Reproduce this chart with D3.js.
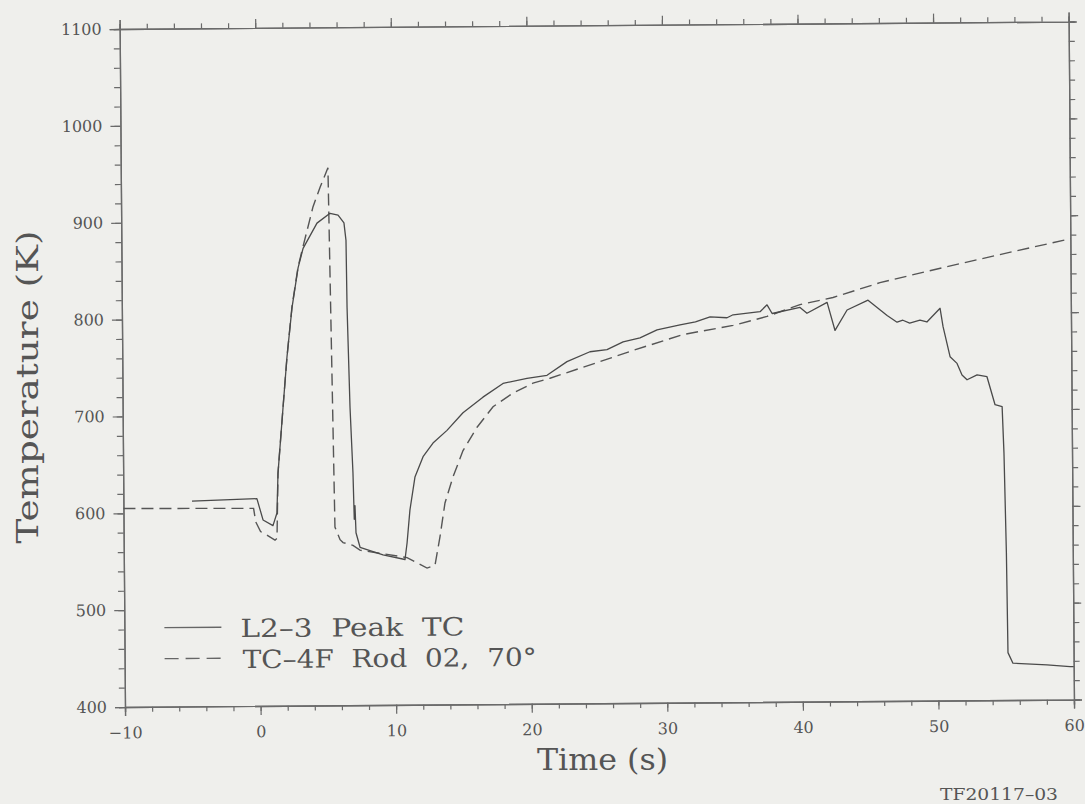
<!DOCTYPE html>
<html>
<head>
<meta charset="utf-8">
<script src="https://cdn.jsdelivr.net/npm/d3@7"></script>
<style>
  html, body { margin: 0; padding: 0; background: #efefec; }
  svg { display: block; }
  text { font-family: "DejaVu Serif", "Liberation Serif", serif; fill: #555; }
</style>
</head>
<body>
<svg id="chart" width="1085" height="804"></svg>
<script>
// axis ticks
const timeTicks = [-10, 0, 10, 20, 30, 40, 50, 60];
const tempTicks = [400, 500, 600, 700, 800, 900, 1000, 1100];

// L2-3 Peak TC (solid)
const peakTime = [-4.94, -0.15, 0.29, 1.02, 1.32, 1.42, 1.83, 2.15, 2.55, 3.02, 3.40, 4.44, 5.41, 6.0, 6.43, 6.57,
  6.61, 6.77, 6.95, 7.02, 7.08, 7.14, 7.43, 9.12, 10.74, 10.9, 11.13, 11.52, 12.13, 12.87, 13.91, 15.1, 16.58,
  18.07, 19.84, 21.32, 22.8, 24.5, 25.76, 26.95, 28.2, 29.46, 31.16, 32.3, 33.38, 34.63, 35.08, 37.07, 37.59,
  37.96, 40.02, 40.53, 42.02, 42.59, 43.49, 45.04, 46.44, 47.17, 47.6, 48.1, 48.86, 49.37, 50.35, 50.56, 51.06,
  51.57, 51.93, 52.3, 53.04, 53.77, 54.35, 54.87, 54.98, 55.1, 55.16, 55.52, 58.03, 59.73, 60];
const peakTemp = [612, 614, 592, 586, 599, 640, 708, 760, 811, 852, 872, 898, 908, 906, 898, 880,
  811, 708, 640, 592, 606, 578, 563, 555, 550, 567, 601, 635, 656, 670, 683, 701, 717,
  731, 736, 739, 753, 763, 765, 773, 777, 785, 790, 793, 798, 797, 800, 803, 810,
  801, 807, 801, 812, 783, 804, 814, 798, 791, 793, 790, 793, 791, 805, 786, 755,
  748, 736, 731, 736, 734, 705, 703, 655, 552, 449, 438, 436, 434, 434];

// TC-4F Rod 02, 70 deg (dashed)
const rodTime = [-10, -0.4, -0.25, 0.1, 0.6, 1.16, 1.31, 1.42, 1.83, 2.15, 2.55, 3.02, 3.40, 4.16, 4.69, 5.28,
  5.59, 5.96, 6.18, 6.91, 7.42, 10.89, 12.36, 12.95, 13.33, 13.72, 14.33, 15.08, 16.13, 17.32, 18.8, 20.28,
  21.54, 23.98, 27.68, 31.37, 35.07, 37.58, 40.02, 42.46, 45.93, 50.89, 55.77, 59.76, 60];
const rodTemp = [605, 604, 590, 580, 576, 571, 573, 640, 708, 760, 812, 853, 874, 915, 935, 955,
  584, 571, 568, 565, 560, 552, 541, 544, 573, 608, 635, 662, 686, 707, 721, 731,
  736, 747, 764, 780, 789, 798, 810, 817, 832, 848, 863, 875, 876];

const legendLabels = ["L2\u20133  Peak  TC", "TC\u20134F  Rod  02,  70\u00b0"];

const W = 949, H = 678;
const svg = d3.select("#chart");

// the scanned page is tilted a little, so the whole plot is turned about the lower left corner
const page = svg.append("g").attr("transform", "rotate(-0.45,125,707)");
const g = page.append("g").attr("transform", "translate(125,29)");

let x = d3.scaleLinear().domain([-10, 60]).range([0, W]);
let y = d3.scaleLinear().domain([400, 1100]).range([H, 0]);

let minorX = d3.range(-10, 61, 2);
let minorY = d3.range(400, 1101, 20);

function styleAxis(sel) {
  sel.select(".domain").attr("stroke", "#6a6a6a").attr("stroke-width", 1.3);
  sel.selectAll(".tick line").attr("stroke", "#6a6a6a").attr("stroke-width", 1.2);
  sel.selectAll("text").attr("fill", "#555").style("font-family", "DejaVu Serif").style("font-size", "16px");
}

// minor ticks first
g.append("g").attr("transform", `translate(0,${H})`)
  .call(d3.axisBottom(x).tickValues(minorX).tickSize(5).tickFormat("")).call(styleAxis);
g.append("g")
  .call(d3.axisTop(x).tickValues(minorX).tickSize(5).tickFormat("")).call(styleAxis);
g.append("g")
  .call(d3.axisLeft(y).tickValues(minorY).tickSize(6).tickFormat("")).call(styleAxis);
g.append("g").attr("transform", `translate(${W},0)`)
  .call(d3.axisRight(y).tickValues(minorY).tickSize(6).tickFormat("")).call(styleAxis);

// major ticks with labels
g.append("g").attr("transform", `translate(0,${H})`)
  .call(d3.axisBottom(x).tickValues(timeTicks).tickSize(9).tickPadding(11)
    .tickFormat(d => d < 0 ? "\u2212" + Math.abs(d) : d))
  .call(styleAxis);
g.append("g")
  .call(d3.axisTop(x).tickValues(timeTicks).tickSize(9).tickFormat("")).call(styleAxis);
g.append("g")
  .call(d3.axisLeft(y).tickValues(tempTicks).tickSize(10).tickPadding(8).tickFormat(d3.format("d")))
  .call(styleAxis);
g.append("g").attr("transform", `translate(${W},0)`)
  .call(d3.axisRight(y).tickValues(tempTicks).tickSize(8).tickFormat("")).call(styleAxis);

// curves
let peakData = peakTime.map((t, i) => [t, peakTemp[i]]);
let rodData = rodTime.map((t, i) => [t, rodTemp[i]]);

let line = d3.line().x(d => x(d[0])).y(d => y(d[1]));

g.append("path").datum(rodData)
  .attr("d", line)
  .attr("fill", "none")
  .attr("stroke", "#555")
  .attr("stroke-width", 1.4)
  .attr("stroke-dasharray", "12,6");

g.append("path").datum(peakData)
  .attr("d", line)
  .attr("fill", "none")
  .attr("stroke", "#4a4a4a")
  .attr("stroke-width", 1.3)
  .attr("stroke-linejoin", "round");

// legend
let legend = g.append("g").attr("transform", "translate(40,599)");
legend.append("line").attr("x1", 0).attr("x2", 57).attr("y1", 0).attr("y2", 0)
  .attr("stroke", "#666").attr("stroke-width", 1.3);
legend.append("line").attr("x1", 0).attr("x2", 57).attr("y1", 31).attr("y2", 31)
  .attr("stroke", "#666").attr("stroke-width", 1.3).attr("stroke-dasharray", "14,7");
legend.selectAll("text.lab").data(legendLabels).enter().append("text")
  .attr("class", "lab")
  .attr("x", (d, i) => 76 + i * 2)
  .attr("y", (d, i) => 10 + i * 31)
  .attr("textLength", (d, i) => i === 0 ? 224 : 294)
  .attr("lengthAdjust", "spacingAndGlyphs")
  .style("white-space", "pre")
  .style("font-size", "25px")
  .attr("fill", "#555")
  .text(d => d);

// axis titles
svg.append("text")
  .attr("transform", "translate(38,387) rotate(-90)")
  .attr("text-anchor", "middle")
  .attr("textLength", 313)
  .attr("lengthAdjust", "spacingAndGlyphs")
  .style("font-size", "29px")
  .text("Temperature (K)");

svg.append("text")
  .attr("x", 537)
  .attr("y", 770)
  .attr("textLength", 131)
  .attr("lengthAdjust", "spacingAndGlyphs")
  .style("font-size", "29px")
  .text("Time (s)");

svg.append("text")
  .attr("x", 940)
  .attr("y", 800)
  .attr("textLength", 118)
  .attr("lengthAdjust", "spacingAndGlyphs")
  .style("font-size", "16px")
  .text("TF20117\u201303");
</script>
</body>
</html>
